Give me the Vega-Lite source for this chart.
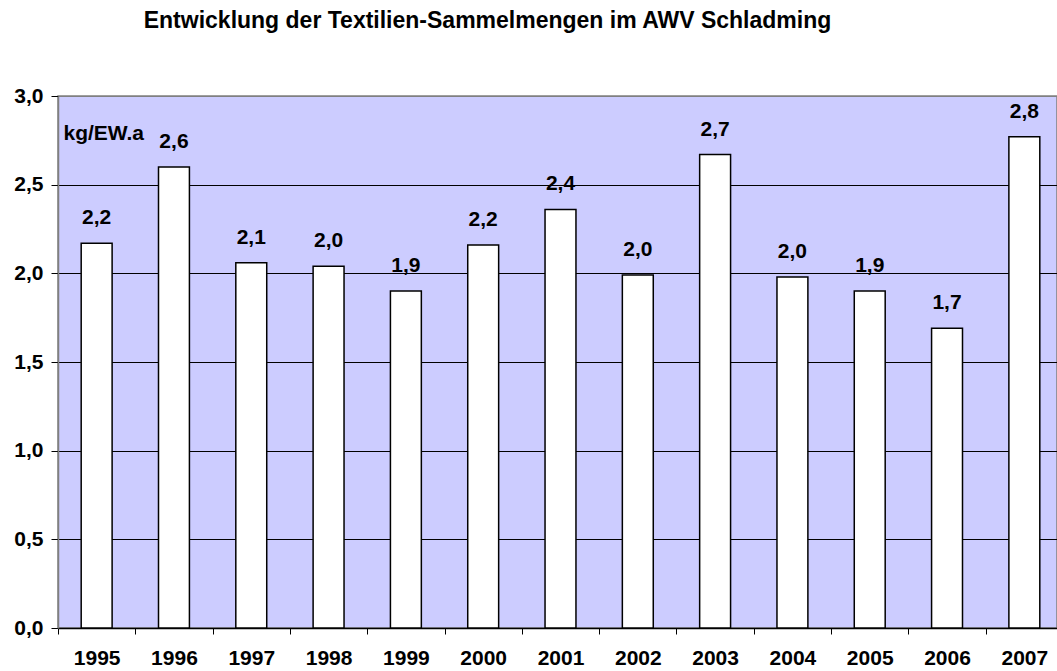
{
  "$schema": "https://vega.github.io/schema/vega-lite/v6.json",
  "autosize": "none",
  "padding": {"left": 58, "top": 96, "right": 0, "bottom": 43},
  "width": 999,
  "height": 532,
  "background": "white",
  "config": {
    "locale": {"number": {"decimal": ",", "thousands": ".", "grouping": [3], "currency": ["", " €"]}},
    "view": {"fill": "#CCCCFF", "stroke": "#808080", "strokeWidth": 1.5},
    "font": "Liberation Sans"
  },
  "title": {
    "text": "Entwicklung der Textilien-Sammelmengen im AWV Schladming",
    "font": "Liberation Sans",
    "fontSize": 23,
    "fontWeight": "bold",
    "color": "black",
    "anchor": "middle",
    "frame": "group",
    "dx": -70,
    "offset": 34,
    "baseline": "alphabetic"
  },
  "data": {
    "values": [
      {"Jahr": "1995", "Menge": 2.17},
      {"Jahr": "1996", "Menge": 2.60},
      {"Jahr": "1997", "Menge": 2.06},
      {"Jahr": "1998", "Menge": 2.04},
      {"Jahr": "1999", "Menge": 1.90},
      {"Jahr": "2000", "Menge": 2.16},
      {"Jahr": "2001", "Menge": 2.36},
      {"Jahr": "2002", "Menge": 1.99},
      {"Jahr": "2003", "Menge": 2.67},
      {"Jahr": "2004", "Menge": 1.98},
      {"Jahr": "2005", "Menge": 1.90},
      {"Jahr": "2006", "Menge": 1.69},
      {"Jahr": "2007", "Menge": 2.77}
    ]
  },
  "encoding": {
    "x": {
      "field": "Jahr",
      "type": "nominal",
      "sort": null,
      "scale": {"range": [0, 1005], "paddingInner": 0.6, "paddingOuter": 0.3},
      "axis": {
        "title": null,
        "labelAngle": 0,
        "labelFont": "Liberation Sans",
        "labelFontSize": 21,
        "labelFontWeight": "bold",
        "labelColor": "black",
        "tickColor": "black",
        "tickSize": 6,
        "tickOffset": -38.65,
        "labelOffset": 38.65,
        "domainColor": "black",
        "domainWidth": 1.5,
        "labelPadding": 13,
        "grid": false
      }
    },
    "y": {
      "field": "Menge",
      "type": "quantitative",
      "scale": {"domain": [0, 3], "nice": false},
      "axis": {
        "title": "kg/EW.a",
        "titleAngle": 0,
        "titleAlign": "left",
        "titleBaseline": "alphabetic",
        "titleX": 5,
        "titleY": 43,
        "titleFont": "Liberation Sans",
        "titleFontSize": 21,
        "titleFontWeight": "bold",
        "titleColor": "black",
        "values": [0, 0.5, 1, 1.5, 2, 2.5, 3],
        "format": ".1f",
        "labelFont": "Liberation Sans",
        "labelFontSize": 21,
        "labelFontWeight": "bold",
        "labelColor": "black",
        "tickColor": "black",
        "tickSize": 7,
        "labelPadding": 8,
        "domainColor": "#808080",
        "domainWidth": 1.5,
        "grid": true,
        "gridColor": {"condition": {"test": "datum.value == 3", "value": "#808080"}, "value": "black"},
        "gridWidth": 1,
        "gridOpacity": 1
      }
    }
  },
  "layer": [
    {"mark": {"type": "bar", "fill": "white", "stroke": "black", "strokeWidth": 1.5}},
    {
      "mark": {"type": "text", "baseline": "alphabetic", "dy": -19, "fontSize": 21, "fontWeight": "bold", "font": "Liberation Sans", "color": "black"},
      "encoding": {"text": {"field": "Menge", "type": "quantitative", "format": ".1f"}}
    }
  ]
}
